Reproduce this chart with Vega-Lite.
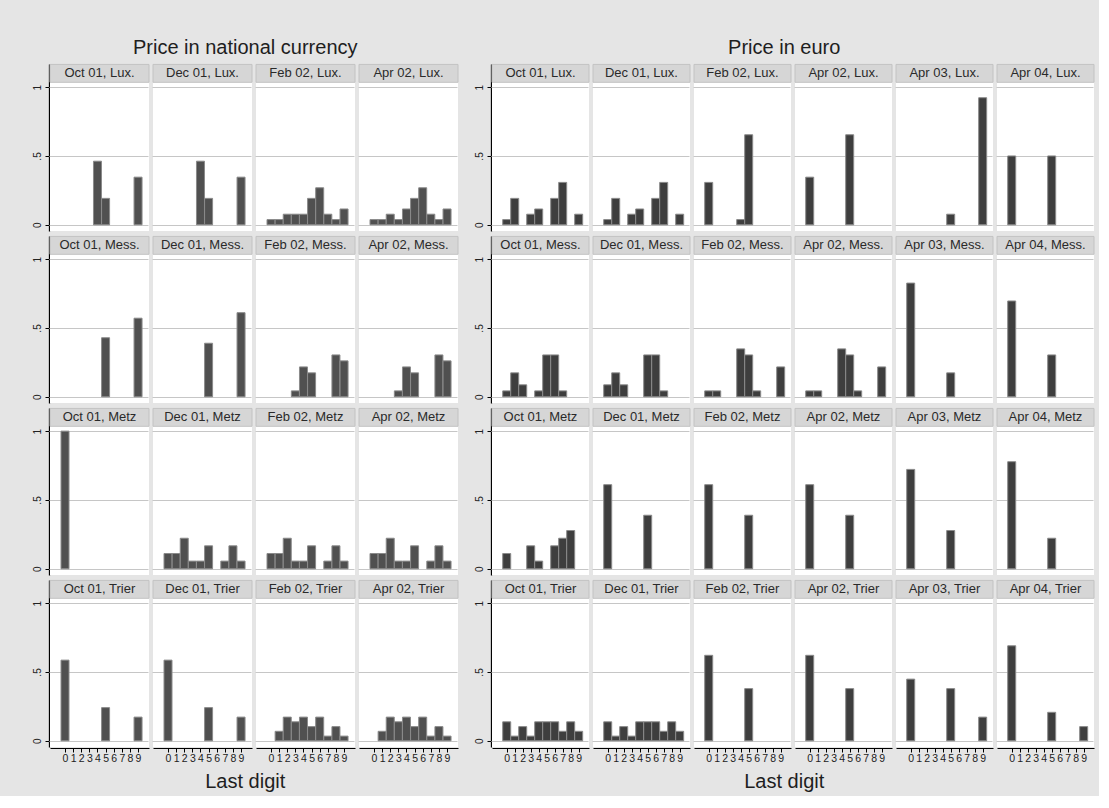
{
"$schema": "https://vega.github.io/schema/vega-lite/v6.json",
"background": "#e5e5e5",
"padding": {"left": 32, "top": 37, "right": 4, "bottom": 4},
"config": {"view": {"fill": "white", "stroke": null}, "font": "Liberation Sans",
 "title": {"font": "Liberation Sans", "fontSize": 20, "fontWeight": "normal", "color": "#1e1e1e", "anchor": "middle"},
 "axis": {"labelFont": "Liberation Sans", "labelColor": "#222", "tickColor": "black", "tickSize": 4, "domainColor": "black"},
 "axisX": {"grid": false, "labelPadding": 1, "labelFontSize": 10.5, "offset": 1, "labelAngle": 0},
 "axisY": {"domain": true, "domainWidth": 1.3, "offset": 1, "grid": true, "gridColor": "#c6c6c6", "gridWidth": 1, "labelPadding": 3, "labelAngle": -90, "labelFontSize": 10}},
"spacing": 15,
"datasets": {
"nat": [
{"d":"Oct 01","c":"Lux.","p":"Oct 01, Lux.","x":4,"s":0.462},{"d":"Oct 01","c":"Lux.","p":"Oct 01, Lux.","x":5,"s":0.192},{"d":"Oct 01","c":"Lux.","p":"Oct 01, Lux.","x":9,"s":0.346},
{"d":"Dec 01","c":"Lux.","p":"Dec 01, Lux.","x":4,"s":0.462},{"d":"Dec 01","c":"Lux.","p":"Dec 01, Lux.","x":5,"s":0.192},{"d":"Dec 01","c":"Lux.","p":"Dec 01, Lux.","x":9,"s":0.346},
{"d":"Feb 02","c":"Lux.","p":"Feb 02, Lux.","x":0,"s":0.038},{"d":"Feb 02","c":"Lux.","p":"Feb 02, Lux.","x":1,"s":0.038},{"d":"Feb 02","c":"Lux.","p":"Feb 02, Lux.","x":2,"s":0.077},{"d":"Feb 02","c":"Lux.","p":"Feb 02, Lux.","x":3,"s":0.077},{"d":"Feb 02","c":"Lux.","p":"Feb 02, Lux.","x":4,"s":0.077},{"d":"Feb 02","c":"Lux.","p":"Feb 02, Lux.","x":5,"s":0.192},{"d":"Feb 02","c":"Lux.","p":"Feb 02, Lux.","x":6,"s":0.269},{"d":"Feb 02","c":"Lux.","p":"Feb 02, Lux.","x":7,"s":0.077},{"d":"Feb 02","c":"Lux.","p":"Feb 02, Lux.","x":8,"s":0.038},{"d":"Feb 02","c":"Lux.","p":"Feb 02, Lux.","x":9,"s":0.115},
{"d":"Apr 02","c":"Lux.","p":"Apr 02, Lux.","x":0,"s":0.038},{"d":"Apr 02","c":"Lux.","p":"Apr 02, Lux.","x":1,"s":0.038},{"d":"Apr 02","c":"Lux.","p":"Apr 02, Lux.","x":2,"s":0.077},{"d":"Apr 02","c":"Lux.","p":"Apr 02, Lux.","x":3,"s":0.038},{"d":"Apr 02","c":"Lux.","p":"Apr 02, Lux.","x":4,"s":0.115},{"d":"Apr 02","c":"Lux.","p":"Apr 02, Lux.","x":5,"s":0.192},{"d":"Apr 02","c":"Lux.","p":"Apr 02, Lux.","x":6,"s":0.269},{"d":"Apr 02","c":"Lux.","p":"Apr 02, Lux.","x":7,"s":0.077},{"d":"Apr 02","c":"Lux.","p":"Apr 02, Lux.","x":8,"s":0.038},{"d":"Apr 02","c":"Lux.","p":"Apr 02, Lux.","x":9,"s":0.115},
{"d":"Oct 01","c":"Mess.","p":"Oct 01, Mess.","x":5,"s":0.429},{"d":"Oct 01","c":"Mess.","p":"Oct 01, Mess.","x":9,"s":0.571},
{"d":"Dec 01","c":"Mess.","p":"Dec 01, Mess.","x":5,"s":0.389},{"d":"Dec 01","c":"Mess.","p":"Dec 01, Mess.","x":9,"s":0.611},
{"d":"Feb 02","c":"Mess.","p":"Feb 02, Mess.","x":3,"s":0.043},{"d":"Feb 02","c":"Mess.","p":"Feb 02, Mess.","x":4,"s":0.217},{"d":"Feb 02","c":"Mess.","p":"Feb 02, Mess.","x":5,"s":0.174},{"d":"Feb 02","c":"Mess.","p":"Feb 02, Mess.","x":8,"s":0.304},{"d":"Feb 02","c":"Mess.","p":"Feb 02, Mess.","x":9,"s":0.261},
{"d":"Apr 02","c":"Mess.","p":"Apr 02, Mess.","x":3,"s":0.043},{"d":"Apr 02","c":"Mess.","p":"Apr 02, Mess.","x":4,"s":0.217},{"d":"Apr 02","c":"Mess.","p":"Apr 02, Mess.","x":5,"s":0.174},{"d":"Apr 02","c":"Mess.","p":"Apr 02, Mess.","x":8,"s":0.304},{"d":"Apr 02","c":"Mess.","p":"Apr 02, Mess.","x":9,"s":0.261},
{"d":"Oct 01","c":"Metz","p":"Oct 01, Metz","x":0,"s":1.0},
{"d":"Dec 01","c":"Metz","p":"Dec 01, Metz","x":0,"s":0.111},{"d":"Dec 01","c":"Metz","p":"Dec 01, Metz","x":1,"s":0.111},{"d":"Dec 01","c":"Metz","p":"Dec 01, Metz","x":2,"s":0.222},{"d":"Dec 01","c":"Metz","p":"Dec 01, Metz","x":3,"s":0.056},{"d":"Dec 01","c":"Metz","p":"Dec 01, Metz","x":4,"s":0.056},{"d":"Dec 01","c":"Metz","p":"Dec 01, Metz","x":5,"s":0.167},{"d":"Dec 01","c":"Metz","p":"Dec 01, Metz","x":7,"s":0.056},{"d":"Dec 01","c":"Metz","p":"Dec 01, Metz","x":8,"s":0.167},{"d":"Dec 01","c":"Metz","p":"Dec 01, Metz","x":9,"s":0.056},
{"d":"Feb 02","c":"Metz","p":"Feb 02, Metz","x":0,"s":0.111},{"d":"Feb 02","c":"Metz","p":"Feb 02, Metz","x":1,"s":0.111},{"d":"Feb 02","c":"Metz","p":"Feb 02, Metz","x":2,"s":0.222},{"d":"Feb 02","c":"Metz","p":"Feb 02, Metz","x":3,"s":0.056},{"d":"Feb 02","c":"Metz","p":"Feb 02, Metz","x":4,"s":0.056},{"d":"Feb 02","c":"Metz","p":"Feb 02, Metz","x":5,"s":0.167},{"d":"Feb 02","c":"Metz","p":"Feb 02, Metz","x":7,"s":0.056},{"d":"Feb 02","c":"Metz","p":"Feb 02, Metz","x":8,"s":0.167},{"d":"Feb 02","c":"Metz","p":"Feb 02, Metz","x":9,"s":0.056},
{"d":"Apr 02","c":"Metz","p":"Apr 02, Metz","x":0,"s":0.111},{"d":"Apr 02","c":"Metz","p":"Apr 02, Metz","x":1,"s":0.111},{"d":"Apr 02","c":"Metz","p":"Apr 02, Metz","x":2,"s":0.222},{"d":"Apr 02","c":"Metz","p":"Apr 02, Metz","x":3,"s":0.056},{"d":"Apr 02","c":"Metz","p":"Apr 02, Metz","x":4,"s":0.056},{"d":"Apr 02","c":"Metz","p":"Apr 02, Metz","x":5,"s":0.167},{"d":"Apr 02","c":"Metz","p":"Apr 02, Metz","x":7,"s":0.056},{"d":"Apr 02","c":"Metz","p":"Apr 02, Metz","x":8,"s":0.167},{"d":"Apr 02","c":"Metz","p":"Apr 02, Metz","x":9,"s":0.056},
{"d":"Oct 01","c":"Trier","p":"Oct 01, Trier","x":0,"s":0.586},{"d":"Oct 01","c":"Trier","p":"Oct 01, Trier","x":5,"s":0.241},{"d":"Oct 01","c":"Trier","p":"Oct 01, Trier","x":9,"s":0.172},
{"d":"Dec 01","c":"Trier","p":"Dec 01, Trier","x":0,"s":0.586},{"d":"Dec 01","c":"Trier","p":"Dec 01, Trier","x":5,"s":0.241},{"d":"Dec 01","c":"Trier","p":"Dec 01, Trier","x":9,"s":0.172},
{"d":"Feb 02","c":"Trier","p":"Feb 02, Trier","x":1,"s":0.069},{"d":"Feb 02","c":"Trier","p":"Feb 02, Trier","x":2,"s":0.172},{"d":"Feb 02","c":"Trier","p":"Feb 02, Trier","x":3,"s":0.138},{"d":"Feb 02","c":"Trier","p":"Feb 02, Trier","x":4,"s":0.172},{"d":"Feb 02","c":"Trier","p":"Feb 02, Trier","x":5,"s":0.103},{"d":"Feb 02","c":"Trier","p":"Feb 02, Trier","x":6,"s":0.172},{"d":"Feb 02","c":"Trier","p":"Feb 02, Trier","x":7,"s":0.034},{"d":"Feb 02","c":"Trier","p":"Feb 02, Trier","x":8,"s":0.103},{"d":"Feb 02","c":"Trier","p":"Feb 02, Trier","x":9,"s":0.034},
{"d":"Apr 02","c":"Trier","p":"Apr 02, Trier","x":1,"s":0.069},{"d":"Apr 02","c":"Trier","p":"Apr 02, Trier","x":2,"s":0.172},{"d":"Apr 02","c":"Trier","p":"Apr 02, Trier","x":3,"s":0.138},{"d":"Apr 02","c":"Trier","p":"Apr 02, Trier","x":4,"s":0.172},{"d":"Apr 02","c":"Trier","p":"Apr 02, Trier","x":5,"s":0.103},{"d":"Apr 02","c":"Trier","p":"Apr 02, Trier","x":6,"s":0.172},{"d":"Apr 02","c":"Trier","p":"Apr 02, Trier","x":7,"s":0.034},{"d":"Apr 02","c":"Trier","p":"Apr 02, Trier","x":8,"s":0.103},{"d":"Apr 02","c":"Trier","p":"Apr 02, Trier","x":9,"s":0.034}
],
"eur": [
{"d":"Oct 01","c":"Lux.","p":"Oct 01, Lux.","x":0,"s":0.038},{"d":"Oct 01","c":"Lux.","p":"Oct 01, Lux.","x":1,"s":0.192},{"d":"Oct 01","c":"Lux.","p":"Oct 01, Lux.","x":3,"s":0.077},{"d":"Oct 01","c":"Lux.","p":"Oct 01, Lux.","x":4,"s":0.115},{"d":"Oct 01","c":"Lux.","p":"Oct 01, Lux.","x":6,"s":0.192},{"d":"Oct 01","c":"Lux.","p":"Oct 01, Lux.","x":7,"s":0.308},{"d":"Oct 01","c":"Lux.","p":"Oct 01, Lux.","x":9,"s":0.077},
{"d":"Dec 01","c":"Lux.","p":"Dec 01, Lux.","x":0,"s":0.038},{"d":"Dec 01","c":"Lux.","p":"Dec 01, Lux.","x":1,"s":0.192},{"d":"Dec 01","c":"Lux.","p":"Dec 01, Lux.","x":3,"s":0.077},{"d":"Dec 01","c":"Lux.","p":"Dec 01, Lux.","x":4,"s":0.115},{"d":"Dec 01","c":"Lux.","p":"Dec 01, Lux.","x":6,"s":0.192},{"d":"Dec 01","c":"Lux.","p":"Dec 01, Lux.","x":7,"s":0.308},{"d":"Dec 01","c":"Lux.","p":"Dec 01, Lux.","x":9,"s":0.077},
{"d":"Feb 02","c":"Lux.","p":"Feb 02, Lux.","x":0,"s":0.308},{"d":"Feb 02","c":"Lux.","p":"Feb 02, Lux.","x":4,"s":0.038},{"d":"Feb 02","c":"Lux.","p":"Feb 02, Lux.","x":5,"s":0.654},
{"d":"Apr 02","c":"Lux.","p":"Apr 02, Lux.","x":0,"s":0.346},{"d":"Apr 02","c":"Lux.","p":"Apr 02, Lux.","x":5,"s":0.654},
{"d":"Apr 03","c":"Lux.","p":"Apr 03, Lux.","x":5,"s":0.077},{"d":"Apr 03","c":"Lux.","p":"Apr 03, Lux.","x":9,"s":0.923},
{"d":"Apr 04","c":"Lux.","p":"Apr 04, Lux.","x":0,"s":0.5},{"d":"Apr 04","c":"Lux.","p":"Apr 04, Lux.","x":5,"s":0.5},
{"d":"Oct 01","c":"Mess.","p":"Oct 01, Mess.","x":0,"s":0.043},{"d":"Oct 01","c":"Mess.","p":"Oct 01, Mess.","x":1,"s":0.174},{"d":"Oct 01","c":"Mess.","p":"Oct 01, Mess.","x":2,"s":0.087},{"d":"Oct 01","c":"Mess.","p":"Oct 01, Mess.","x":4,"s":0.043},{"d":"Oct 01","c":"Mess.","p":"Oct 01, Mess.","x":5,"s":0.304},{"d":"Oct 01","c":"Mess.","p":"Oct 01, Mess.","x":6,"s":0.304},{"d":"Oct 01","c":"Mess.","p":"Oct 01, Mess.","x":7,"s":0.043},
{"d":"Dec 01","c":"Mess.","p":"Dec 01, Mess.","x":0,"s":0.087},{"d":"Dec 01","c":"Mess.","p":"Dec 01, Mess.","x":1,"s":0.174},{"d":"Dec 01","c":"Mess.","p":"Dec 01, Mess.","x":2,"s":0.087},{"d":"Dec 01","c":"Mess.","p":"Dec 01, Mess.","x":5,"s":0.304},{"d":"Dec 01","c":"Mess.","p":"Dec 01, Mess.","x":6,"s":0.304},{"d":"Dec 01","c":"Mess.","p":"Dec 01, Mess.","x":7,"s":0.043},
{"d":"Feb 02","c":"Mess.","p":"Feb 02, Mess.","x":0,"s":0.043},{"d":"Feb 02","c":"Mess.","p":"Feb 02, Mess.","x":1,"s":0.043},{"d":"Feb 02","c":"Mess.","p":"Feb 02, Mess.","x":4,"s":0.348},{"d":"Feb 02","c":"Mess.","p":"Feb 02, Mess.","x":5,"s":0.304},{"d":"Feb 02","c":"Mess.","p":"Feb 02, Mess.","x":6,"s":0.043},{"d":"Feb 02","c":"Mess.","p":"Feb 02, Mess.","x":9,"s":0.217},
{"d":"Apr 02","c":"Mess.","p":"Apr 02, Mess.","x":0,"s":0.043},{"d":"Apr 02","c":"Mess.","p":"Apr 02, Mess.","x":1,"s":0.043},{"d":"Apr 02","c":"Mess.","p":"Apr 02, Mess.","x":4,"s":0.348},{"d":"Apr 02","c":"Mess.","p":"Apr 02, Mess.","x":5,"s":0.304},{"d":"Apr 02","c":"Mess.","p":"Apr 02, Mess.","x":6,"s":0.043},{"d":"Apr 02","c":"Mess.","p":"Apr 02, Mess.","x":9,"s":0.217},
{"d":"Apr 03","c":"Mess.","p":"Apr 03, Mess.","x":0,"s":0.826},{"d":"Apr 03","c":"Mess.","p":"Apr 03, Mess.","x":5,"s":0.174},
{"d":"Apr 04","c":"Mess.","p":"Apr 04, Mess.","x":0,"s":0.696},{"d":"Apr 04","c":"Mess.","p":"Apr 04, Mess.","x":5,"s":0.304},
{"d":"Oct 01","c":"Metz","p":"Oct 01, Metz","x":0,"s":0.111},{"d":"Oct 01","c":"Metz","p":"Oct 01, Metz","x":3,"s":0.167},{"d":"Oct 01","c":"Metz","p":"Oct 01, Metz","x":4,"s":0.056},{"d":"Oct 01","c":"Metz","p":"Oct 01, Metz","x":6,"s":0.167},{"d":"Oct 01","c":"Metz","p":"Oct 01, Metz","x":7,"s":0.222},{"d":"Oct 01","c":"Metz","p":"Oct 01, Metz","x":8,"s":0.278},
{"d":"Dec 01","c":"Metz","p":"Dec 01, Metz","x":0,"s":0.611},{"d":"Dec 01","c":"Metz","p":"Dec 01, Metz","x":5,"s":0.389},
{"d":"Feb 02","c":"Metz","p":"Feb 02, Metz","x":0,"s":0.611},{"d":"Feb 02","c":"Metz","p":"Feb 02, Metz","x":5,"s":0.389},
{"d":"Apr 02","c":"Metz","p":"Apr 02, Metz","x":0,"s":0.611},{"d":"Apr 02","c":"Metz","p":"Apr 02, Metz","x":5,"s":0.389},
{"d":"Apr 03","c":"Metz","p":"Apr 03, Metz","x":0,"s":0.722},{"d":"Apr 03","c":"Metz","p":"Apr 03, Metz","x":5,"s":0.278},
{"d":"Apr 04","c":"Metz","p":"Apr 04, Metz","x":0,"s":0.778},{"d":"Apr 04","c":"Metz","p":"Apr 04, Metz","x":5,"s":0.222},
{"d":"Oct 01","c":"Trier","p":"Oct 01, Trier","x":0,"s":0.138},{"d":"Oct 01","c":"Trier","p":"Oct 01, Trier","x":1,"s":0.034},{"d":"Oct 01","c":"Trier","p":"Oct 01, Trier","x":2,"s":0.103},{"d":"Oct 01","c":"Trier","p":"Oct 01, Trier","x":3,"s":0.034},{"d":"Oct 01","c":"Trier","p":"Oct 01, Trier","x":4,"s":0.138},{"d":"Oct 01","c":"Trier","p":"Oct 01, Trier","x":5,"s":0.138},{"d":"Oct 01","c":"Trier","p":"Oct 01, Trier","x":6,"s":0.138},{"d":"Oct 01","c":"Trier","p":"Oct 01, Trier","x":7,"s":0.069},{"d":"Oct 01","c":"Trier","p":"Oct 01, Trier","x":8,"s":0.138},{"d":"Oct 01","c":"Trier","p":"Oct 01, Trier","x":9,"s":0.069},
{"d":"Dec 01","c":"Trier","p":"Dec 01, Trier","x":0,"s":0.138},{"d":"Dec 01","c":"Trier","p":"Dec 01, Trier","x":1,"s":0.034},{"d":"Dec 01","c":"Trier","p":"Dec 01, Trier","x":2,"s":0.103},{"d":"Dec 01","c":"Trier","p":"Dec 01, Trier","x":3,"s":0.034},{"d":"Dec 01","c":"Trier","p":"Dec 01, Trier","x":4,"s":0.138},{"d":"Dec 01","c":"Trier","p":"Dec 01, Trier","x":5,"s":0.138},{"d":"Dec 01","c":"Trier","p":"Dec 01, Trier","x":6,"s":0.138},{"d":"Dec 01","c":"Trier","p":"Dec 01, Trier","x":7,"s":0.069},{"d":"Dec 01","c":"Trier","p":"Dec 01, Trier","x":8,"s":0.138},{"d":"Dec 01","c":"Trier","p":"Dec 01, Trier","x":9,"s":0.069},
{"d":"Feb 02","c":"Trier","p":"Feb 02, Trier","x":0,"s":0.621},{"d":"Feb 02","c":"Trier","p":"Feb 02, Trier","x":5,"s":0.379},
{"d":"Apr 02","c":"Trier","p":"Apr 02, Trier","x":0,"s":0.621},{"d":"Apr 02","c":"Trier","p":"Apr 02, Trier","x":5,"s":0.379},
{"d":"Apr 03","c":"Trier","p":"Apr 03, Trier","x":0,"s":0.448},{"d":"Apr 03","c":"Trier","p":"Apr 03, Trier","x":5,"s":0.379},{"d":"Apr 03","c":"Trier","p":"Apr 03, Trier","x":9,"s":0.172},
{"d":"Apr 04","c":"Trier","p":"Apr 04, Trier","x":0,"s":0.690},{"d":"Apr 04","c":"Trier","p":"Apr 04, Trier","x":5,"s":0.207},{"d":"Apr 04","c":"Trier","p":"Apr 04, Trier","x":9,"s":0.103}
]
},
"hconcat": [
{"title": {"text": "Price in national currency", "offset": 6},
 "vconcat": [
 {"data": {"name": "nat"},
  "title": {"text": "Last digit", "orient": "bottom", "offset": 8},
  "bounds": "flush",
  "facet": {
   "row": {"field": "c", "type": "nominal", "sort": ["Lux.", "Mess.", "Metz", "Trier"], "header": {"labels": false, "title": null}},
   "column": {"field": "d", "type": "nominal", "sort": ["Oct 01", "Dec 01", "Feb 02", "Apr 02"], "header": {"labels": false, "title": null}}
  },
  "spacing": {"row": 5, "column": 4},
  "spec": {
   "width": 99, "height": 167,
   "layer": [
    {"transform": [{"aggregate": [{"op": "count", "as": "n"}], "groupby": ["p", "d", "c"]}],
     "mark": {"type": "rect", "fill": "#d6d6d6", "stroke": "#c2c2c2", "strokeWidth": 1},
     "encoding": {
      "x": {"datum": -1.85, "type": "quantitative", "scale": {"domain": [-1.85, 10.35], "nice": false, "zero": false, "padding": 0}, "axis": {"values": [0,1,2,3,4,5,6,7,8,9], "title": null}},
      "x2": {"datum": 10.35},
      "y": {"datum": 1.035, "type": "quantitative", "scale": {"domain": [-0.045, 1.168], "nice": false, "zero": false, "padding": 0}, "axis": {"values": [0, 0.5, 1], "labelExpr": "datum.value == 0.5 ? '.5' : (datum.value == 0 ? '0' : '1')", "title": null}},
      "y2": {"datum": 1.165}}},
    {"transform": [{"aggregate": [{"op": "count", "as": "n"}], "groupby": ["p", "d", "c"]}],
     "mark": {"type": "text", "fontSize": 13, "color": "#2a2a2a", "font": "Liberation Sans", "baseline": "middle"},
     "encoding": {
      "x": {"datum": 4.25, "type": "quantitative", "scale": {"domain": [-1.85, 10.35], "nice": false, "zero": false, "padding": 0}, "axis": {"values": [0,1,2,3,4,5,6,7,8,9], "title": null}},
      "y": {"datum": 1.1, "type": "quantitative", "scale": {"domain": [-0.045, 1.168], "nice": false, "zero": false, "padding": 0}, "axis": {"values": [0, 0.5, 1], "labelExpr": "datum.value == 0.5 ? '.5' : (datum.value == 0 ? '0' : '1')", "title": null}},
      "text": {"field": "p"}}},
    {"mark": {"type": "bar", "width": 8, "fill": "#505050", "stroke": "#8a8a8a", "strokeWidth": 1},
     "encoding": {
      "x": {"field": "x", "type": "quantitative", "scale": {"domain": [-1.85, 10.35], "nice": false, "zero": false, "padding": 0}, "axis": {"values": [0,1,2,3,4,5,6,7,8,9], "title": null}},
      "y": {"field": "s", "type": "quantitative", "scale": {"domain": [-0.045, 1.168], "nice": false, "zero": false, "padding": 0}, "axis": {"values": [0, 0.5, 1], "labelExpr": "datum.value == 0.5 ? '.5' : (datum.value == 0 ? '0' : '1')", "title": null}},
      "y2": {"datum": 0}}}
   ]
  }
 }
 ]
},
{"title": {"text": "Price in euro", "offset": 6},
 "vconcat": [
 {"data": {"name": "eur"},
  "title": {"text": "Last digit", "orient": "bottom", "offset": 8},
  "bounds": "flush",
  "facet": {
   "row": {"field": "c", "type": "nominal", "sort": ["Lux.", "Mess.", "Metz", "Trier"], "header": {"labels": false, "title": null}},
   "column": {"field": "d", "type": "nominal", "sort": ["Oct 01", "Dec 01", "Feb 02", "Apr 02", "Apr 03", "Apr 04"], "header": {"labels": false, "title": null}}
  },
  "spacing": {"row": 5, "column": 4},
  "spec": {
   "width": 97, "height": 167,
   "layer": [
    {"transform": [{"aggregate": [{"op": "count", "as": "n"}], "groupby": ["p", "d", "c"]}],
     "mark": {"type": "rect", "fill": "#d6d6d6", "stroke": "#c2c2c2", "strokeWidth": 1},
     "encoding": {
      "x": {"datum": -1.84, "type": "quantitative", "scale": {"domain": [-1.84, 10.29], "nice": false, "zero": false, "padding": 0}, "axis": {"values": [0,1,2,3,4,5,6,7,8,9], "title": null}},
      "x2": {"datum": 10.29},
      "y": {"datum": 1.035, "type": "quantitative", "scale": {"domain": [-0.045, 1.168], "nice": false, "zero": false, "padding": 0}, "axis": {"values": [0, 0.5, 1], "labelExpr": "datum.value == 0.5 ? '.5' : (datum.value == 0 ? '0' : '1')", "title": null}},
      "y2": {"datum": 1.165}}},
    {"transform": [{"aggregate": [{"op": "count", "as": "n"}], "groupby": ["p", "d", "c"]}],
     "mark": {"type": "text", "fontSize": 13, "color": "#2a2a2a", "font": "Liberation Sans", "baseline": "middle"},
     "encoding": {
      "x": {"datum": 4.22, "type": "quantitative", "scale": {"domain": [-1.84, 10.29], "nice": false, "zero": false, "padding": 0}, "axis": {"values": [0,1,2,3,4,5,6,7,8,9], "title": null}},
      "y": {"datum": 1.1, "type": "quantitative", "scale": {"domain": [-0.045, 1.168], "nice": false, "zero": false, "padding": 0}, "axis": {"values": [0, 0.5, 1], "labelExpr": "datum.value == 0.5 ? '.5' : (datum.value == 0 ? '0' : '1')", "title": null}},
      "text": {"field": "p"}}},
    {"mark": {"type": "bar", "width": 8, "fill": "#3e3e3e", "stroke": "#8a8a8a", "strokeWidth": 1},
     "encoding": {
      "x": {"field": "x", "type": "quantitative", "scale": {"domain": [-1.84, 10.29], "nice": false, "zero": false, "padding": 0}, "axis": {"values": [0,1,2,3,4,5,6,7,8,9], "title": null}},
      "y": {"field": "s", "type": "quantitative", "scale": {"domain": [-0.045, 1.168], "nice": false, "zero": false, "padding": 0}, "axis": {"values": [0, 0.5, 1], "labelExpr": "datum.value == 0.5 ? '.5' : (datum.value == 0 ? '0' : '1')", "title": null}},
      "y2": {"datum": 0}}}
   ]
  }
 }
 ]
}
]
}
